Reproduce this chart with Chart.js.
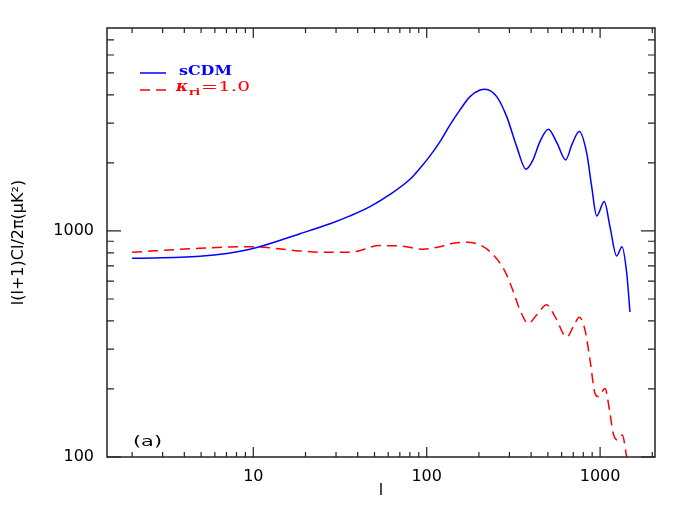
<!DOCTYPE html>
<html lang="en">
<head>
<meta charset="UTF-8" />
<title>l(l+1)Cl/2pi</title>
<style>
    html, body { margin: 0; padding: 0; background: #fff; }
    #wrap { width: 692px; height: 512px; }
</style>
</head>
<body>
<div id="wrap"><canvas id="grafico"></canvas></div>
<script src="https://cdn.jsdelivr.net/npm/chart.js"></script>
<script>
    // sCDM curve
    const ellCDM = [2, 4.93, 9.57, 18.6, 27.7, 36.1, 47.1, 61.4, 80.1, 91.5, 104.5, 119.3, 136.3, 155.6, 177.7, 203, 216.9, 253.3, 289.3, 330.4, 373.9, 410, 450.3, 502.7, 564, 633.4, 689, 758.6, 837.1, 894.3, 955.8, 1057, 1140, 1246, 1338, 1424, 1487];
    const clCDM = [757, 772, 830, 972, 1075, 1165, 1280, 1450, 1693, 1894, 2147, 2484, 2944, 3430, 3928, 4200, 4236, 3928, 3204, 2360, 1875, 2060, 2489, 2818, 2449, 2062, 2420, 2750, 2207, 1570, 1165, 1348, 1045, 775, 852, 650, 438];

    // kappa_ri = 1.0 curve
    const ellRi = [2, 4.93, 9.57, 18.6, 25, 36.1, 53.8, 70.2, 95.2, 119.3, 142.3, 170.1, 203, 231.7, 264.7, 289.3, 315.8, 345.1, 385.3, 430.9, 492, 549.6, 642, 700.4, 758.6, 818.2, 874.5, 934.6, 976.4, 1067, 1140, 1191, 1257, 1343, 1424];
    const clRi = [805, 838, 852, 816, 805, 805, 861, 858, 830, 852, 882, 891, 867, 810, 720, 639, 539, 447, 390, 425, 471, 418, 339, 377, 415, 365, 269, 191, 185, 201, 156, 127, 119, 125, 100];

    const xLabelTicks = [10, 100, 1000];
    const yLabelTicks = [100, 1000];
    const xMinorTicks = [2, 3, 4, 5, 6, 7, 8, 9, 20, 30, 40, 50, 60, 70, 80, 90, 200, 300, 400, 500, 600, 700, 800, 900, 2000];
    const yMinorTicks = [200, 300, 400, 500, 600, 700, 800, 900, 2000, 3000, 4000, 5000, 6000, 7000];

    const blue = '#0000ff';
    const red = '#ff0000';
    const fonte = '"DejaVu Sans", sans-serif';
    const serif = '"DejaVu Serif", serif';

    const toPoints = (xs, ys) => xs.map((v, i) => ({ x: v, y: ys[i] }));

    // the original lettering is wide and low, so stretch text to its width
    function fitText(ctx, text, x, y, width, font) {
        ctx.font = font;
        const w = ctx.measureText(text).width;
        ctx.save();
        ctx.translate(x, y);
        ctx.scale(width / w, 1);
        ctx.fillText(text, 0, 0);
        ctx.restore();
    }

    // box, inward ticks, legend and panel tag
    const moldura = {
        id: 'moldura',
        afterDatasetsDraw(chart) {
            const { ctx, chartArea: a, scales: { x, y } } = chart;
            ctx.save();
            ctx.strokeStyle = '#222';
            ctx.lineWidth = 1.5;
            ctx.strokeRect(a.left, a.top, a.right - a.left, a.bottom - a.top);

            ctx.lineWidth = 1.2;
            ctx.beginPath();
            xLabelTicks.map(v => [v, 10]).concat(xMinorTicks.map(v => [v, 5])).forEach(([v, len]) => {
                const px = x.getPixelForValue(v);
                ctx.moveTo(px, a.bottom); ctx.lineTo(px, a.bottom - len);
                ctx.moveTo(px, a.top); ctx.lineTo(px, a.top + len);
            });
            yLabelTicks.map(v => [v, 14]).concat(yMinorTicks.map(v => [v, 7])).forEach(([v, len]) => {
                const py = y.getPixelForValue(v);
                ctx.moveTo(a.left, py); ctx.lineTo(a.left + len, py);
                ctx.moveTo(a.right, py); ctx.lineTo(a.right - len, py);
            });
            ctx.stroke();

            // legend
            ctx.lineWidth = 1.5;
            ctx.strokeStyle = blue;
            ctx.beginPath(); ctx.moveTo(140, 73); ctx.lineTo(166, 73); ctx.stroke();
            ctx.strokeStyle = red;
            ctx.setLineDash([10, 6]);
            ctx.beginPath(); ctx.moveTo(140, 90); ctx.lineTo(166, 90); ctx.stroke();
            ctx.setLineDash([]);

            ctx.textBaseline = 'alphabetic';
            ctx.textAlign = 'left';
            ctx.fillStyle = blue;
            fitText(ctx, 'sCDM', 179, 74.5, 53, 'bold 13px ' + serif);

            ctx.fillStyle = red;
            fitText(ctx, 'κ', 176, 91, 12, 'italic bold 14px ' + serif);
            fitText(ctx, 'ri', 189, 95, 11, 'bold 10px ' + serif);
            fitText(ctx, '=1.0', 201, 91, 49, '13px ' + serif);

            ctx.fillStyle = '#000';
            fitText(ctx, '(a)', 133, 446, 29, '14px ' + fonte);
            ctx.restore();
        }
    };

    new Chart(document.getElementById('grafico'), {
        type: 'line',
        data: {
            datasets: [
                {
                    label: 'sCDM',
                    data: toPoints(ellCDM, clCDM),
                    borderColor: blue,
                    borderWidth: 1.5,
                    pointRadius: 0,
                    cubicInterpolationMode: 'monotone',
                    fill: false
                },
                {
                    label: 'κri=1.0',
                    data: toPoints(ellRi, clRi),
                    borderColor: red,
                    borderWidth: 1.5,
                    borderDash: [10, 6],
                    pointRadius: 0,
                    cubicInterpolationMode: 'monotone',
                    fill: false
                }
            ]
        },
        options: {
            responsive: true,
            maintainAspectRatio: false,
            animation: false,
            layout: { padding: { left: 0, right: 37, top: 28, bottom: 0 } },
            plugins: {
                legend: { display: false },
                tooltip: { enabled: false }
            },
            scales: {
                x: {
                    type: 'logarithmic',
                    bounds: 'data',
                    min: 1.433,
                    max: 2073,
                    grid: { display: false, drawTicks: false },
                    border: { display: false },
                    afterBuildTicks: s => { s.ticks = xLabelTicks.map(v => ({ value: v, major: true })); },
                    afterFit: s => { s.height = 55; },
                    ticks: {
                        autoSkip: false,
                        maxRotation: 0,
                        padding: 10,
                        color: '#000',
                        font: { family: fonte, size: 16 },
                        callback: v => String(v)
                    },
                    title: {
                        display: true,
                        text: 'l',
                        color: '#000',
                        font: { family: fonte, size: 16 },
                        padding: { top: 0, bottom: 12 }
                    }
                },
                y: {
                    type: 'logarithmic',
                    bounds: 'data',
                    min: 100,
                    max: 7900,
                    grid: { display: false, drawTicks: false },
                    border: { display: false },
                    afterBuildTicks: s => { s.ticks = yLabelTicks.map(v => ({ value: v, major: true })); },
                    afterFit: s => { s.width = 107; },
                    ticks: {
                        autoSkip: false,
                        padding: 13,
                        color: '#000',
                        font: { family: fonte, size: 16 },
                        callback: v => String(v)
                    },
                    title: {
                        display: true,
                        text: 'l(l+1)Cl/2π(μK²)',
                        color: '#000',
                        font: { family: fonte, size: 16 },
                        padding: { top: 9, bottom: 0 }
                    }
                }
            }
        },
        plugins: [moldura]
    });
</script>
</body>
</html>
